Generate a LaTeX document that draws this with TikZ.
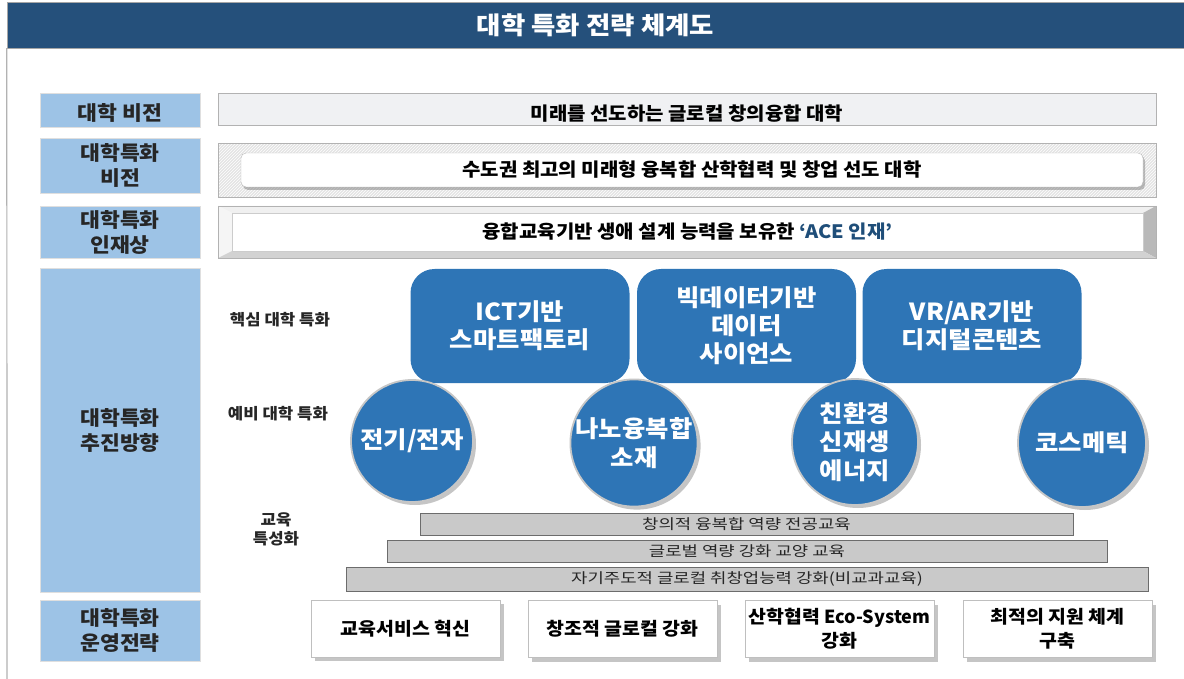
\documentclass[tikz,border=0pt]{standalone}
\usepackage{fontspec}
\setmainfont[FakeStretch=1.08]{Noto Sans CJK KR}
\usetikzlibrary{shadows,patterns}
\definecolor{titlebg}{HTML}{25507B}
\definecolor{labblue}{HTML}{9DC3E6}
\definecolor{corblue}{HTML}{2E75B6}
\definecolor{rowgray}{HTML}{F0F1F3}
\definecolor{bargray}{HTML}{C9C9C9}
\definecolor{acecol}{HTML}{1F4E79}
\definecolor{txtdark}{HTML}{262626}
\newcommand\bartext[1]{\scalebox{0.97}[0.84]{#1}}
\tikzset{
  lab/.style={fill=labblue, draw=gray!25, minimum width=160pt, inner sep=0pt, align=center,
    font=\fontsize{20}{25}\selectfont\bfseries, text=txtdark},
  rowtxt/.style={font=\fontsize{18.5}{20}\selectfont\bfseries, text=black},
  core/.style={fill=corblue, rounded corners=24pt, minimum width=219pt, minimum height=114pt,
    inner sep=0pt, text=white, align=center, font=\fontsize{23.5}{28}\selectfont\bfseries},
  circ/.style={circle, fill=corblue, draw=gray!45, line width=1.8pt, text=white, align=center,
    inner sep=0pt, font=\fontsize{23.5}{28.5}\selectfont\bfseries,
    drop shadow={shadow xshift=3pt, shadow yshift=-3pt, opacity=0.45, fill=gray}},
  sidelab/.style={align=center, font=\fontsize{15.5}{19}\selectfont\bfseries, text=txtdark},
  eduBar/.style={fill=bargray, draw=gray!85!black, minimum height=22pt, inner sep=0pt,
    font=\fontsize{17}{17}\selectfont, text=txtdark},
  ops/.style={fill=white, draw=gray!50, minimum width=189pt, minimum height=57pt, inner sep=0pt,
    align=center, font=\fontsize{18}{24}\selectfont\bfseries, text=black,
    drop shadow={shadow xshift=4pt, shadow yshift=-4pt, opacity=0.45, fill=gray}}
}
\begin{document}
\begin{tikzpicture}[x=1pt,y=-1pt]
\useasboundingbox (0,0) rectangle (1184,679);
\fill[white] (0,0) rectangle (1184,679);

% title bar
\node[fill=titlebg, draw=gray!70, minimum width=1177pt, minimum height=46pt, inner sep=0pt,
  text=white, font=\fontsize{24.5}{24}\selectfont\bfseries] (title) at (595.5,25) {대학 특화 전략 체계도};
\coordinate (frameBot) at (7,679);
\draw[gray!60, line width=1.2pt] (title.south west) -- (frameBot);

% left labels
\node[lab, minimum height=34pt, text height=22pt, text depth=0pt] (lab1) at (120,110) {대학 비전};
\node[lab, minimum height=55pt] (lab2) at (120,165.5) {대학특화\\비전};
\node[lab, minimum height=52pt] (lab3) at (120,232) {대학특화\\인재상};
\node[lab, minimum height=324pt] (lab4) at (120,430) {대학특화\\추진방향};
\node[lab, minimum height=61pt] (lab5) at (120,630.5) {대학특화\\운영전략};

% row 1
\node[draw=gray!60, fill=rowgray, minimum width=938pt, minimum height=32pt, inner sep=0pt, rowtxt,
  text height=23pt, text depth=0pt]
  (r1) at (687,109) {미래를 선도하는 글로컬 창의융합 대학};

% row 2 (hatched frame)
\fill[gray!22] (218,143) rectangle (1156,197);
\fill[pattern=north east lines, pattern color=white] (218,143) rectangle (1156,197);
\draw[gray!60] (218,143) rectangle (1156,197);
\node[draw=gray!55, fill=white, rounded corners=5pt, minimum width=902pt, minimum height=34pt,
  inner sep=0pt, rowtxt, drop shadow={shadow xshift=2pt, shadow yshift=-3pt, opacity=0.5, fill=gray}]
  (r2) at (692,170) {수도권 최고의 미래형 융복합 산학협력 및 창업 선도 대학};

% row 3 (bevel frame)
\fill[gray!12] (218,206) -- (1156,206) -- (1143,213) -- (232,213) -- cycle;
\fill[gray!8] (218,206) -- (232,213) -- (232,251) -- (218,258) -- cycle;
\fill[gray!55] (1156,206) -- (1156,258) -- (1143,251) -- (1143,213) -- cycle;
\fill[gray!35] (218,258) -- (232,251) -- (1143,251) -- (1156,258) -- cycle;
\draw[gray!60] (218,206) rectangle (1156,258);
\node[fill=white, draw=gray!40, minimum width=911pt, minimum height=38pt, inner sep=0pt, rowtxt]
  (r3) at (687.5,232) {융합교육기반 생애 설계 능력을 보유한 \textcolor{acecol}{‘ACE 인재’}};

% side labels
\node[sidelab] (sl1) at (280,320) {핵심 대학 특화};
\node[sidelab] (sl2) at (278,414) {예비 대학 특화};
\node[sidelab] (sl3) at (276,529) {교육\\특성화};

% core boxes
\node[core] (b1) at (520,326) {ICT기반\\스마트팩토리};
\node[core] (b2) at (746.5,326) {빅데이터기반\\데이터\\사이언스};
\node[core] (b3) at (972,326) {VR/AR기반\\디지털콘텐츠};

% circles
\node[circ, minimum size=122pt] (c1) at (412,441) {전기/전자};
\node[circ, minimum size=126pt] (c2) at (634,443) {나노융복합\\소재};
\node[circ, minimum size=126pt] (c3) at (855,442) {친환경\\신재생\\에너지};
\node[circ, minimum size=128pt] (c4) at (1082,443) {코스메틱};

% education bars
\node[eduBar, minimum width=653pt] (g1) at (746.5,524) {\bartext{창의적 융복합 역량 전공교육}};
\node[eduBar, minimum width=720pt] (g2) at (747,551) {\bartext{글로벌 역량 강화 교양 교육}};
\node[eduBar, minimum width=802pt, minimum height=24pt] (g3) at (747,579) {\bartext{자기주도적 글로컬 취창업능력 강화(비교과교육)}};

% operating strategies
\node[ops] (o1) at (405.5,628.5) {교육서비스 혁신};
\node[ops] (o2) at (622.5,629) {창조적 글로컬 강화};
\node[ops] (o3) at (839.5,629) {산학협력 \scalebox{0.93}[1]{Eco-System}\\강화};
\node[ops] (o4) at (1057.5,629) {최적의 지원 체계\\구축};
\end{tikzpicture}
\end{document}
